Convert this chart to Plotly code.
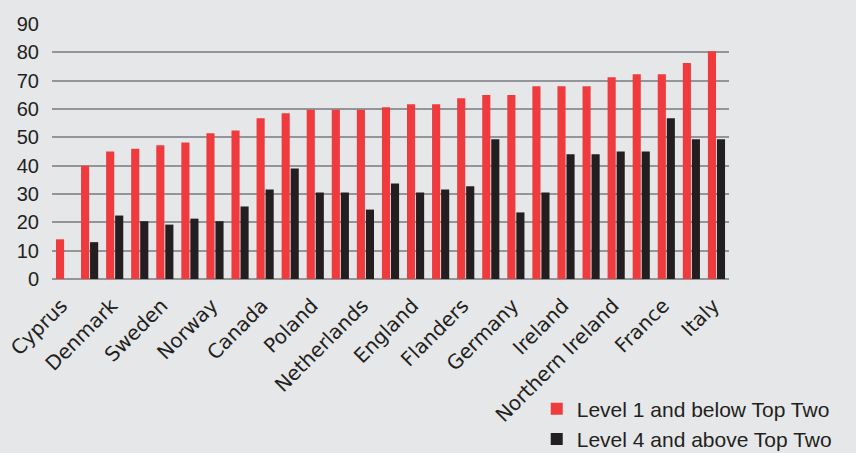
import plotly.graph_objects as go

# 27 countries, only every other one is labelled in the chart
tick_labels = ["Cyprus", "Denmark", "Sweden", "Norway", "Canada", "Poland",
               "Netherlands", "England", "Flanders", "Germany", "Ireland",
               "Northern Ireland", "France", "Italy"]

level1_below = [14, 40, 45, 46, 47.2, 48.2, 51.4, 52.4, 56.7, 58.5, 59.7, 59.7,
                59.7, 60.6, 61.7, 61.7, 63.8, 64.9, 64.9, 68.0, 68.0, 68.0,
                71.2, 72.3, 72.3, 76.2, 80.4]
level4_above = [None, 13, 22.4, 20.4, 19.2, 21.3, 20.4, 25.6, 31.6, 39.0, 30.5,
                30.5, 24.5, 33.7, 30.5, 31.6, 32.7, 49.3, 23.5, 30.5, 44.0,
                44.0, 45.0, 45.0, 56.7, 49.3, 49.3]

series_names = ["Level 1 and below Top Two", "Level 4 and above Top Two"]
y_ticks = [0, 10, 20, 30, 40, 50, 60, 70, 80, 90]

x_pos = list(range(len(level1_below)))
tick_pos = x_pos[::2]

RED = "#EF3B3E"
BLACK = "#231F20"
GRID = "#939598"
BG = "#E6E7E9"

fig = go.Figure()
fig.add_trace(go.Bar(x=x_pos, y=level1_below, name=series_names[0],
                     marker=dict(color=RED, line=dict(width=0))))
fig.add_trace(go.Bar(x=x_pos, y=level4_above, name=series_names[1],
                     marker=dict(color=BLACK, line=dict(width=0))))

fig.update_layout(
    width=856, height=453,
    margin=dict(l=52, r=127, t=24, b=174, pad=0, autoexpand=False),
    paper_bgcolor=BG, plot_bgcolor=BG,
    barmode="group", bargap=0.28, bargroupgap=0.1,
    showlegend=True,
    legend=dict(x=0.716, xanchor="left", y=-0.43, yanchor="top",
                font=dict(family="Liberation Sans", size=21, color=BLACK),
                bgcolor="rgba(0,0,0,0)", tracegroupgap=0, borderwidth=0,
                itemsizing="constant"),
    xaxis=dict(range=[-0.5, 26.5], tickmode="array", tickvals=tick_pos,
               ticktext=tick_labels, tickangle=-45, showgrid=False,
               zeroline=False, showline=False, ticks="", automargin=False,
               ticklabelstandoff=10, ticklabelshift=-3,
               tickfont=dict(family="DejaVu Sans", size=20, color=BLACK)),
    yaxis=dict(range=[0, 90], tickmode="array", tickvals=y_ticks,
               showgrid=True, gridcolor=GRID, gridwidth=2,
               zeroline=True, zerolinecolor=GRID, zerolinewidth=2,
               showline=False, ticks="", ticklabelstandoff=12, automargin=False,
               tickfont=dict(family="Liberation Sans", size=20, color=BLACK)),
)

fig.write_html("out.html")
